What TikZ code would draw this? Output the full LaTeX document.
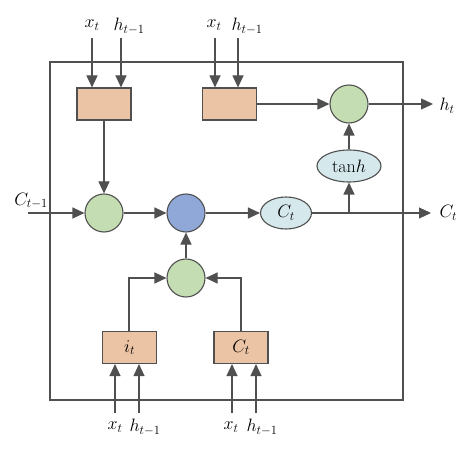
\RequirePackage{fix-cm}
\documentclass[tikz,border=0pt]{standalone}
\usetikzlibrary{arrows.meta,shapes.geometric}
\definecolor{boxfill}{HTML}{EBC4A6}
\definecolor{gfill}{HTML}{C5DDB3}
\definecolor{bfill}{HTML}{8FA8D8}
\definecolor{efill}{HTML}{D5E8EC}
\definecolor{ln}{HTML}{505050}
\newcommand{\bigfont}{\fontsize{18}{21}\selectfont}
\begin{document}
\begin{tikzpicture}[x=1bp,y=-1bp,
  line width=1.1bp, draw=ln,
  gate/.style={draw=ln,fill=boxfill,minimum width=54bp,minimum height=32bp,inner sep=0pt,line width=1.1bp,font=\bigfont},
  gcirc/.style={circle,draw=ln,fill=gfill,minimum size=38bp,inner sep=0pt,line width=1.1bp},
  bcirc/.style={circle,draw=ln,fill=bfill,minimum size=38bp,inner sep=0pt,line width=1.1bp},
  oval/.style={ellipse,draw=ln,fill=efill,minimum height=32bp,inner sep=0pt,line width=1.1bp,font=\bigfont},
  arr/.style={draw=ln,line width=1.1bp,-{Triangle[length=12bp,width=11bp]}},
  lab/.style={inner sep=1bp,font=\bigfont}]
\useasboundingbox (0,0) rectangle (474,453);
\node[draw=ln,line width=1.1bp,minimum width=353bp,minimum height=338bp,inner sep=0pt] (frame) at (226.5,231) {};
% top gates
\node[gate] (g1) at (104,104) {};
\node[gate] (g2) at (229.5,104) {};
% circles
\node[gcirc] (o) at (349,104) {};
\node[oval,minimum width=64bp] (th) at (349,166) {tan$h$};
\node[gcirc] (f) at (104,213) {};
\node[bcirc] (p) at (186,213) {};
\node[oval,minimum width=51bp] (ct) at (286,213) {$C_t$};
\node[gcirc] (m) at (186,278) {};
% bottom gates
\node[gate] (gi) at (129.5,347.5) {$i_t$};
\node[gate] (gc) at (241,347.5) {$C_t$};
% top labels
\node[lab] (x1) at (92,25) {$x_t$};
\node[lab] (h1) at (129,26) {$h_{t-1}$};
\node[lab] (x2) at (214,25) {$x_t$};
\node[lab] (h2) at (247,26) {$h_{t-1}$};
\coordinate (x1e) at (92,38);
\coordinate (h1e) at (121,38);
\coordinate (x2e) at (215,38);
\coordinate (h2e) at (238,38);
\draw[arr] (x1e) -- (x1e |- g1.north);
\draw[arr] (h1e) -- (h1e |- g1.north);
\draw[arr] (x2e) -- (x2e |- g2.north);
\draw[arr] (h2e) -- (h2e |- g2.north);
% bottom labels
\node[lab] (x3) at (115,427) {$x_t$};
\node[lab] (h3) at (145,427) {$h_{t-1}$};
\node[lab] (x4) at (231,427) {$x_t$};
\node[lab] (h4) at (262,427) {$h_{t-1}$};
\coordinate (x3e) at (115,413);
\coordinate (h3e) at (139,413);
\coordinate (x4e) at (232,413);
\coordinate (h4e) at (256,413);
\draw[arr] (x3e) -- (x3e |- gi.south);
\draw[arr] (h3e) -- (h3e |- gi.south);
\draw[arr] (x4e) -- (x4e |- gc.south);
\draw[arr] (h4e) -- (h4e |- gc.south);
% main flow
\node[lab] (cin) at (31,201) {$C_{t-1}$};
\coordinate (cs) at (28,213);
\draw[arr] (cs) -- (f);
\draw[arr] (g1) -- (f);
\draw[arr] (f) -- (p);
\draw[arr] (p) -- (ct);
\node[lab,anchor=west] (cout) at (438,213) {$C_t$};
\coordinate (ce) at (431,213);
\draw[arr] (ct) -- (ce);
\draw[arr] (th.south |- ct) -- (th);
\draw[arr] (th) -- (o);
\draw[arr] (g2) -- (o);
\node[lab,anchor=west] (hout) at (438,106) {$h_t$};
\coordinate (he) at (433,104);
\draw[arr] (o) -- (he);
\draw[arr] (m) -- (p);
\draw[arr] (gi.north -| 129,0) |- (m);
\draw[arr] (gc.north -| 241,0) |- (m);
\end{tikzpicture}
\end{document}
